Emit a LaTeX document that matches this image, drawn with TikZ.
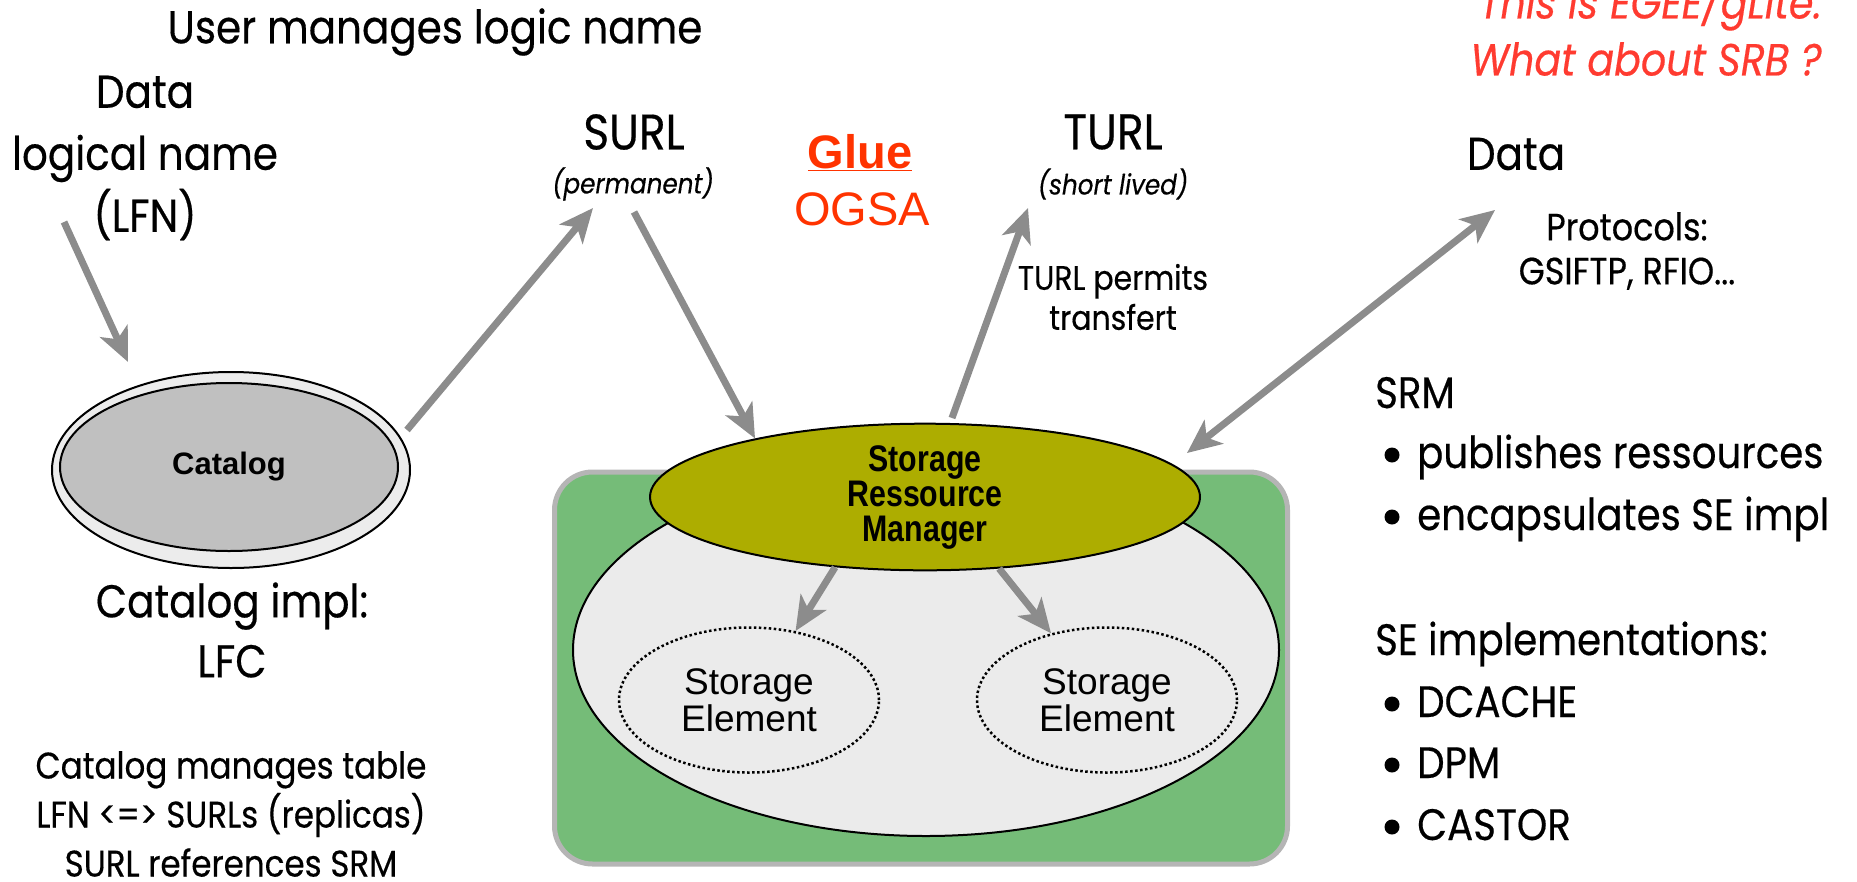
\documentclass[tikz,border=0pt]{standalone}
\usepackage{fontspec}
\setmainfont{Poppins}[FakeStretch=0.88,FakeBold=0.4]
\newfontfamily\arialf{Liberation Sans}
\newfontfamily\arialnf{Liberation Sans}[FakeStretch=0.82]
\usetikzlibrary{arrows.meta,shapes.geometric}
\definecolor{arrgray}{HTML}{8C8C8C}
\definecolor{catout}{HTML}{ECECEC}
\definecolor{catin}{HTML}{C0C0C0}
\definecolor{boxgreen}{HTML}{75BC78}
\definecolor{boxedge}{HTML}{B5B5B5}
\definecolor{seback}{HTML}{EBEBEB}
\definecolor{srmolive}{HTML}{ADAD00}
\definecolor{gluered}{HTML}{FF3300}
\definecolor{notered}{HTML}{FF3B30}
\begin{document}
\begin{tikzpicture}[x=1pt,y=-1pt,
  arr/.style={draw=arrgray,line width=7pt,-{Stealth[length=34pt,width=30pt,inset=9pt]}},
  darr/.style={draw=arrgray,line width=7pt,{Stealth[length=34pt,width=30pt,inset=9pt]}-{Stealth[length=34pt,width=30pt,inset=9pt]}},
  lbl/.style={inner sep=0pt,align=center},
  bigtxt/.style={lbl,font=\fontsize{46}{62}\selectfont},
  listtxt/.style={inner sep=0pt,anchor=base west,font=\fontsize{44}{60}\selectfont},
  ittxt/.style={lbl,font=\fontsize{28}{34}\selectfont\itshape},
  elli/.style={ellipse,draw=black,line width=2pt,inner sep=0pt},
  seell/.style={ellipse,draw=black,line width=2.5pt,dash pattern=on 2.5pt off 2.5pt,inner sep=0pt,
      minimum width=260,minimum height=145,align=center,font=\arialf\fontsize{37}{37}\selectfont},
]
\useasboundingbox (0,0) rectangle (1857,881);

% ---------- left part: catalog ----------
\node[bigtxt] (user) at (435,32) {User manages logic name};
\node[bigtxt] (lfn) at (145,158) {Data\\logical name\\(LFN)};
\node[elli,fill=catout,minimum width=358,minimum height=196] (catouter) at (231,470) {};
\node[elli,fill=catin,minimum width=338,minimum height=168,
      font=\arialf\bfseries\fontsize{31}{34}\selectfont] (cat) at (229,467) {Catalog};
\node[bigtxt,font=\fontsize{46}{60}\selectfont] (catimpl) at (232,630) {Catalog impl:\\LFC};
\node[lbl,font=\fontsize{37}{49}\selectfont] (catnote) at (231,814) {Catalog manages table\\LFN <=> SURLs (replicas)\\SURL references SRM};

% ---------- top labels ----------
\node[lbl,font=\fontsize{50}{50}\selectfont] (surl) at (634,132) {SURL};
\node[ittxt] (surlp) at (633,184) {(permanent)};
\node[lbl,font=\arialf\bfseries\fontsize{47}{50}\selectfont,text=gluered] (glue) at (860,153) {\underline{Glue}};
\node[lbl,font=\arialf\fontsize{47}{50}\selectfont,text=gluered] (ogsa) at (862,209) {OGSA};
\node[lbl,font=\fontsize{50}{50}\selectfont] (turl) at (1113,132) {TURL};
\node[ittxt] (turlp) at (1113,184) {(short lived)};
\node[lbl,font=\fontsize{34}{40}\selectfont] (turlnote) at (1113,297) {TURL permits\\transfert};
\node[bigtxt] (data) at (1516,154) {Data};
\node[lbl,font=\fontsize{38}{44}\selectfont] (proto) at (1627,251) {Protocols:\\GSIFTP, RFIO...};
\node[lbl,anchor=east,text=notered,font=\fontsize{45}{57}\selectfont\itshape,align=right] (note) at (1822,26) {This is EGEE/gLite.\\What about SRB ?};

% ---------- right list ----------
\node[listtxt] (srmh) at (1375,408) {SRM};
\node[listtxt] (b1) at (1417,468) {publishes ressources};
\node[listtxt] (b2) at (1417,530) {encapsulates SE impl};
\node[listtxt] (seh) at (1375,655) {SE implementations:};
\node[listtxt] (b3) at (1417,717) {DCACHE};
\node[listtxt] (b4) at (1417,778) {DPM};
\node[listtxt] (b5) at (1417,840) {CASTOR};
\foreach \yy in {455,517,704,765,827} \fill (1392,\yy) circle (7.5);

% ---------- storage box ----------
\node[draw=boxedge,line width=5pt,fill=boxgreen,rounded corners=38pt,
      minimum width=733,minimum height=392,inner sep=0pt] (sebox) at (921,668) {};
\node[elli,fill=seback,minimum width=706,minimum height=372] (sebig) at (926,650) {};
\node[elli,fill=srmolive,minimum width=550,minimum height=130,
      font=\arialnf\bfseries\fontsize{37}{35}\selectfont,align=center] (srm) at (925,497)
      {Storage\\Ressource\\Manager};
\node[seell] (se1) at (749,700) {Storage\\Element};
\node[seell] (se2) at (1107,700) {Storage\\Element};

% ---------- arrow end points ----------
\coordinate (lfnA) at (64,222);
\coordinate (catA) at (128,362);
\coordinate (catB) at (407,430);
\coordinate (surlA) at (593,208);
\coordinate (surlB) at (634,212);
\coordinate (turlA) at (952,418);
\coordinate (turlB) at (1028,208);
\coordinate (dataA) at (1495,210);
\coordinate (srmA) at (1187,453);

% ---------- arrows ----------
\draw[arr] (lfnA) -- (catA);
\draw[arr] (catB) -- (surlA);
\draw[arr] (surlB) -- (srm.161);
\draw[arr] (turlA) -- (turlB);
\draw[darr] (srmA) -- (dataA);
\draw[arr] (srm.218) -- (se1.56);
\draw[arr] (srm.316) -- (se2.130);
\end{tikzpicture}
\end{document}
